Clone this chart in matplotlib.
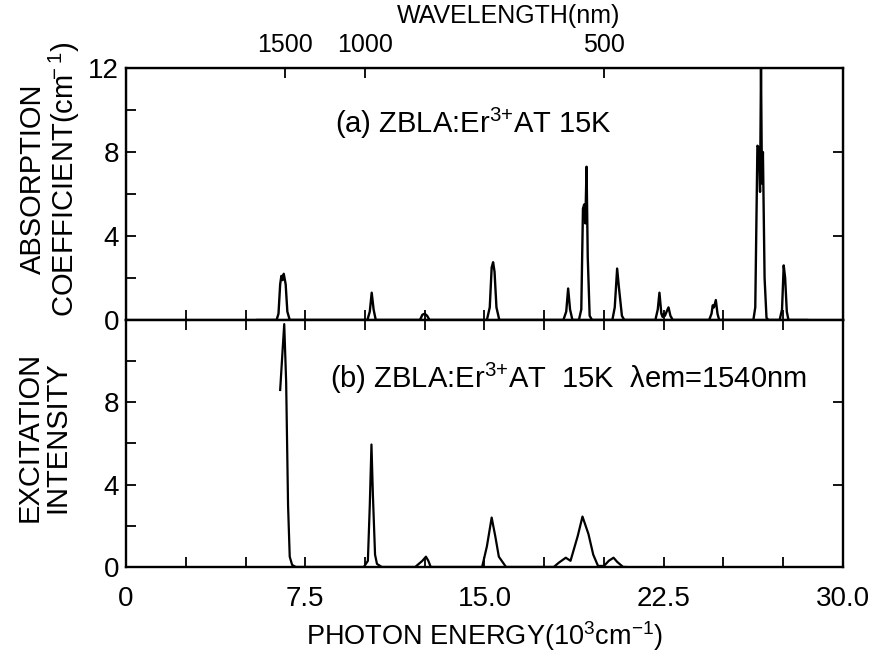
import matplotlib
matplotlib.use("Agg")
import matplotlib.pyplot as plt
from matplotlib.ticker import MultipleLocator, FixedLocator

plt.rcParams['font.family'] = ['Liberation Sans', 'DejaVu Sans']
plt.rcParams['mathtext.fontset'] = 'custom'
plt.rcParams['mathtext.rm'] = 'Liberation Sans'
plt.rcParams['mathtext.it'] = 'Liberation Sans'
plt.rcParams['mathtext.default'] = 'rm'

# (a) absorption spectrum (10^3 cm^-1, cm^-1)
abs_energy = [5.5, 6.3, 6.38, 6.45, 6.5, 6.55, 6.6, 6.68, 6.75, 6.85,
              10.1, 10.2, 10.28, 10.36, 10.45,
              12.3, 12.4, 12.5, 12.6, 12.7,
              15.1, 15.22, 15.3, 15.36, 15.42, 15.5, 15.62,
              18.3, 18.42, 18.5, 18.58, 18.68,
              18.95, 19.05, 19.12, 19.17, 19.22, 19.27, 19.32, 19.4, 19.5,
              20.35, 20.45, 20.55, 20.62, 20.75, 20.85,
              22.15, 22.25, 22.32, 22.4, 22.45, 22.5, 22.55, 22.62, 22.7, 22.78, 22.88,
              24.4, 24.5, 24.55, 24.6, 24.68, 24.75, 24.82,
              26.25, 26.33, 26.42, 26.48, 26.53, 26.57, 26.61, 26.65, 26.72, 26.8, 26.88,
              27.35, 27.45, 27.52, 27.58, 27.65, 27.72, 28.5]
abs_coeff = [0, 0, 0.3, 1.7, 2.1, 1.9, 2.2, 1.7, 0.4, 0,
             0, 0.4, 1.3, 0.5, 0,
             0, 0.25, 0.3, 0.2, 0,
             0, 0.6, 2.5, 2.75, 2.3, 0.6, 0,
             0, 0.4, 1.5, 0.5, 0,
             0, 0.5, 5.3, 5.5, 4.6, 7.3, 3.0, 0.2, 0,
             0, 0.6, 2.45, 1.6, 0.2, 0,
             0, 0.5, 1.3, 0.3, 0.15, 0.3, 0.2, 0.4, 0.6, 0.2, 0,
             0, 0.3, 0.7, 0.6, 0.95, 0.3, 0,
             0, 0.6, 8.3, 8.2, 6.1, 12.0, 6.5, 8.0, 2.0, 0.1, 0,
             0, 0.5, 2.6, 2.0, 0.4, 0, 0]

# (b) excitation spectrum for 1540 nm emission
exc_energy = [6.45, 6.55, 6.62, 6.7, 6.78, 6.85, 6.95, 7.1,
              9.95, 10.12, 10.2, 10.27, 10.33, 10.42, 10.5, 10.7,
              12.1, 12.4, 12.55, 12.65, 12.75,
              14.9, 15.1, 15.3, 15.45, 15.6, 15.9,
              17.9, 18.1, 18.4, 18.6, 18.9, 19.1, 19.35, 19.55, 19.75,
              20.0, 20.2, 20.4, 20.55, 20.8, 20.9]
exc_intensity = [8.6, 10.5, 11.8, 9.0, 3.0, 0.5, 0.1, 0,
                 0, 0.3, 3.0, 5.95, 3.5, 0.6, 0.15, 0,
                 0, 0.3, 0.5, 0.3, 0,
                 0, 1.0, 2.4, 1.5, 0.5, 0,
                 0, 0.2, 0.45, 0.3, 1.5, 2.45, 1.6, 0.6, 0.05,
                 0.05, 0.3, 0.45, 0.25, 0, 0]

x_tick_values = [0, 7.5, 15.0, 22.5, 30.0]
x_tick_labels = ['0', '7.5', '15.0', '22.5', '30.0']
y_tick_values = [0, 4, 8, 12]
wavelengths = [1500, 1000, 500]

fig = plt.figure(figsize=(8.77, 6.56), dpi=100)
ax1 = fig.add_axes([0.1437, 0.5122, 0.8175, 0.3841])
ax2 = fig.add_axes([0.1437, 0.1357, 0.8175, 0.3765])

for ax in (ax1, ax2):
    ax.set_xlim(0, 30)
    ax.set_ylim(0, 12)
    for s in ax.spines.values():
        s.set_linewidth(1.7)
    ax.xaxis.set_major_locator(FixedLocator(x_tick_values))
    ax.xaxis.set_minor_locator(MultipleLocator(2.5))
    ax.yaxis.set_minor_locator(MultipleLocator(2))
    ax.tick_params(which='both', direction='in', length=7, width=1.3,
                   labelsize=20, pad=5)
    ax.tick_params(which='minor', right=False)
    ax.tick_params(which='major', right=True)

ax1.plot(abs_energy, abs_coeff, color='black', lw=1.7)
ax2.plot(exc_energy, exc_intensity, color='black', lw=1.6)

ax1.set_yticks(y_tick_values)
ax1.set_xticklabels([])
ax1.tick_params(axis='x', which='both', top=False)

ax2.set_yticks([0, 4, 8])
ax2.tick_params(axis='x', which='both', top=True)
ax2.set_xticklabels(x_tick_labels)
ax2.tick_params(axis='x', pad=14)

# wavelength scale on top
top = ax1.twiny()
top.set_xlim(0, 30)
top.set_xticks([1e4 / w for w in wavelengths])
top.set_xticklabels([str(w) for w in wavelengths])
top.tick_params(direction='in', length=7, width=1.3, labelsize=18, pad=8)
fig.text(0.58, 0.975, 'WAVELENGTH(nm)', fontsize=18, ha='center', va='center')

ax2.set_xlabel('PHOTON ENERGY(10$^{3}$cm$^{-1}$)', fontsize=19.5, labelpad=5)

fig.text(0.058, 0.727, 'ABSORPTION\nCOEFFICIENT(cm$^{\\!\\!\\!-1}$)', rotation=90,
         fontsize=21, ha='center', va='center', multialignment='center',
         linespacing=1.0)
fig.text(0.05, 0.334, 'EXCITATION\nINTENSITY', rotation=90,
         fontsize=21, ha='center', va='center', multialignment='center',
         linespacing=1.0)

ax1.text(8.75, 8.9, '(a) ZBLA:Er$^{3{+}}$AT 15K', fontsize=21)
ax2.text(8.55, 8.7, '(b) ZBLA:Er$^{3{+}}$AT  15K  \u03bbem=1540nm', fontsize=21)

fig.savefig('out.png', dpi=100)
